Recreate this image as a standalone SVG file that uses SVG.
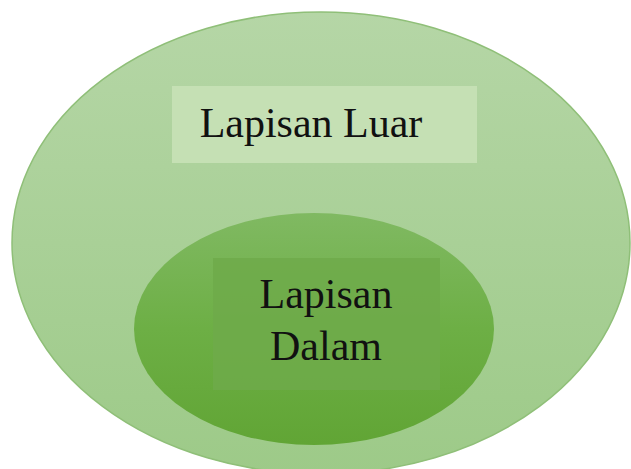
<svg xmlns="http://www.w3.org/2000/svg" width="631" height="469" viewBox="0 0 631 469">
<defs>
<linearGradient id="gOuter" x1="0" y1="0" x2="0" y2="1">
<stop offset="0" stop-color="#b5d6a6"/>
<stop offset="1" stop-color="#9dca88"/>
</linearGradient>
<linearGradient id="gInner" x1="0" y1="0" x2="0" y2="1">
<stop offset="0" stop-color="#80b962"/>
<stop offset="0.5" stop-color="#6daf45"/>
<stop offset="1" stop-color="#61a535"/>
</linearGradient>
<style>
.lbl{font-family:"Liberation Serif","Times New Roman",serif;font-size:42px;fill:#111;}
</style>
</defs>
<rect width="631" height="469" fill="#ffffff"/>
<g id="outer">
<ellipse cx="321" cy="243" rx="309" ry="231" fill="url(#gOuter)" stroke="#8fbf78" stroke-width="1.5"/>
<rect x="172" y="86" width="305" height="77" fill="#c5e0b4"/>
<text class="lbl" x="311" y="137" text-anchor="middle">Lapisan Luar</text>
</g>
<g id="inner">
<ellipse cx="314" cy="329" rx="180" ry="116" fill="url(#gInner)"/>
<rect x="213" y="258" width="227" height="132" fill="#6eaa4a" fill-opacity="0.85"/>
<text class="lbl" x="326" y="308" text-anchor="middle">Lapisan</text>
<text class="lbl" x="326" y="360" text-anchor="middle">Dalam</text>
</g>
<g id="connectors"/>
</svg>
